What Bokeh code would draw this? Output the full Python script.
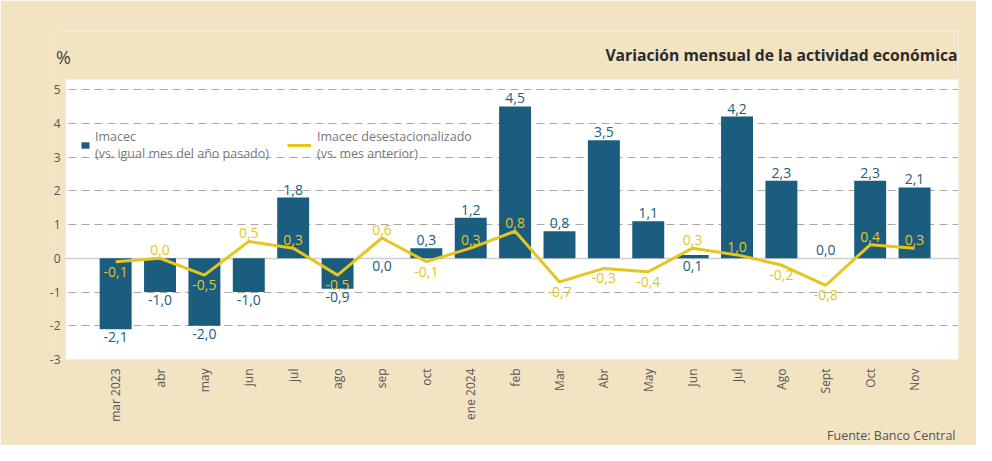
import math
from bokeh.plotting import figure
from bokeh.models import (ColumnDataSource, LabelSet, Label, Legend, LegendItem,
                          FixedTicker, Grid, Title, BoxAnnotation)
from bokeh.core.properties import value
from bokeh.embed import file_html
from bokeh.resources import INLINE

# ---------------- data ----------------
months = ["mar 2023", "abr", "may", "jun", "jul", "ago", "sep", "oct", "ene 2024",
          "feb", "Mar", "Abr", "May", "Jun", "Jul", "Ago", "Sept", "Oct", "Nov"]
imacec = [-2.1, -1.0, -2.0, -1.0, 1.8, -0.9, 0.0, 0.3, 1.2,
          4.5, 0.8, 3.5, 1.1, 0.1, 4.2, 2.3, 0.0, 2.3, 2.1]
desest = [-0.1, 0.0, -0.5, 0.5, 0.3, -0.5, 0.6, -0.1, 0.3,
          0.8, -0.7, -0.3, -0.4, 0.3, 0.1, -0.2, -0.8, 0.4, 0.3]
desest_labels = ["-0,1", "0,0", "-0,5", "0,5", "0,3", "-0,5", "0,6", "-0,1", "0,3",
                 "0,8", "-0,7", "-0,3", "-0,4", "0,3", "1,0", "-0,2", "-0,8", "0,4", "0,3"]
y_ticks = [-3, -2, -1, 0, 1, 2, 3, 4, 5]
y_tick_labels = ["-3", "-2", "-1", "0", "1", "2", "3", "4", "5"]

title_text = "Variación mensual de la actividad económica"
source_text = "Fuente: Banco Central"
unit_text = "%"
legend_bar = "Imacec\n(vs. igual mes del año pasado)"
legend_line = "Imacec desestacionalizado\n(vs. mes anterior)"

# ---------------- styles ----------------
FONT = "Open Sans"
BG = "#f2e3c3"
BAR = "#1a5d7e"
YEL = "#e6c51c"
GRID = "#a9a9a9"
TXT = "#555555"

# plotting area (white panel) in data units
PANEL_L, PANEL_R = -1.13, len(months) - 0.01
PANEL_B, PANEL_T = -3, 5.3

x = list(range(len(months)))

p = figure(width=976, height=445, output_backend="svg", toolbar_location=None,
           x_range=(-1.355, PANEL_R), y_range=(PANEL_B, 6.75),
           min_border_left=55, min_border_right=18, min_border_top=30, min_border_bottom=86)
p.border_fill_color = BG
p.background_fill_color = BG
p.outline_line_color = None

# white plotting panel (under the grid)
p.add_layout(BoxAnnotation(left=PANEL_L, right=PANEL_R, bottom=PANEL_B, top=PANEL_T,
                           fill_color="white", fill_alpha=1, line_color=None, level="image"))

bars = p.vbar(x=x, top=imacec, bottom=0, width=0.72, fill_color=BAR, line_color=None)
line = p.line(x=x, y=desest, line_color=YEL, line_width=3)

# axes
p.xaxis.ticker = FixedTicker(ticks=x)
p.xaxis.major_label_overrides = {i: m for i, m in enumerate(months)}
p.xaxis.major_label_orientation = math.pi / 2
p.xaxis.major_label_standoff = 9
p.yaxis.ticker = FixedTicker(ticks=y_ticks)
p.yaxis.major_label_overrides = dict(zip(y_ticks, y_tick_labels))
p.yaxis.major_label_standoff = -5
for ax in (p.xaxis, p.yaxis):
    ax.axis_line_color = None
    ax.major_tick_line_color = None
    ax.minor_tick_line_color = None
    ax.major_tick_out = 0
    ax.major_tick_in = 0
    ax.minor_tick_out = 0
    ax.major_label_text_font = FONT
    ax.major_label_text_font_size = "12px"
    ax.major_label_text_color = TXT

p.xgrid.visible = False
p.ygrid.ticker = FixedTicker(ticks=[t for t in y_ticks if t not in (0, -3)])
p.ygrid.grid_line_color = GRID
p.ygrid.grid_line_dash = "8 5"
p.ygrid.grid_line_width = 1
zero_grid = Grid(dimension=1, ticker=FixedTicker(ticks=[0]), grid_line_color="#cfcfcf",
                 grid_line_width=1.5)
p.add_layout(zero_grid)
# beige strip left of the white panel (hides grid lines there)
p.add_layout(BoxAnnotation(right=PANEL_L, fill_color=BG, fill_alpha=1, line_color=None,
                           level="underlay"))

# bar labels
def fmt(v):
    return f"{v:.1f}".replace(".", ",")

above = dict(x=[], y=[], t=[])
below = dict(x=[], y=[], t=[])
for i, (v, d) in enumerate(zip(imacec, desest)):
    if v < 0 or (v < 0.2 and d > v):
        below["x"].append(i); below["y"].append(min(v, 0)); below["t"].append(fmt(v))
    else:
        above["x"].append(i); above["y"].append(max(v, 0)); above["t"].append(fmt(v))

lbl_style = dict(text_align="center", text_font=value(FONT), text_font_size="14px")
p.add_layout(LabelSet(x="x", y="y", text="t", source=ColumnDataSource(above),
                      text_baseline="bottom", y_offset=3, text_color=BAR, **lbl_style))
p.add_layout(LabelSet(x="x", y="y", text="t", source=ColumnDataSource(below),
                      text_baseline="top", y_offset=-3, text_color=BAR, **lbl_style))

# line labels
la = dict(x=[], y=[], t=[])
lb = dict(x=[], y=[], t=[])
for i, (v, t) in enumerate(zip(desest, desest_labels)):
    if v >= 0:
        la["x"].append(i); la["y"].append(v); la["t"].append(t)
    else:
        lb["x"].append(i); lb["y"].append(v); lb["t"].append(t)
p.add_layout(LabelSet(x="x", y="y", text="t", source=ColumnDataSource(la),
                      text_baseline="bottom", y_offset=3, text_color=YEL, **lbl_style))
p.add_layout(LabelSet(x="x", y="y", text="t", source=ColumnDataSource(lb),
                      text_baseline="top", y_offset=-5, text_color=YEL, **lbl_style))

# legends
leg_style = dict(glyph_height=8, padding=0, margin=0, background_fill_alpha=0,
                 border_line_color=None, label_text_font=FONT,
                 label_text_font_size="12.5px", label_text_color="#777777",
                 label_text_line_height=0.9)
leg1 = Legend(items=[LegendItem(label=legend_bar, renderers=[bars])],
              location=(25, 197), glyph_width=10, label_standoff=5, **leg_style)
leg2 = Legend(items=[LegendItem(label=legend_line, renderers=[line])],
              location=(232, 197), glyph_width=24, label_standoff=6, **leg_style)
p.add_layout(leg1)
p.add_layout(leg2)

# titles
p.add_layout(Label(x=PANEL_R, y=6.01, text=title_text, text_align="right",
                   text_baseline="middle", text_font=FONT, text_font_size="15.7px",
                   text_font_style="bold", text_color="#2b2b2b", x_offset=-1))
p.add_layout(Label(x=-1.175, y=5.95, text=unit_text, text_align="center",
                   text_baseline="middle", text_font=FONT, text_font_size="18px",
                   text_color="#444444"))
p.add_layout(Title(text=source_text, align="right", text_font=FONT, text_font_size="12.5px",
                   text_font_style="normal", text_color="#555555", standoff=0, offset=3),
             "below")

open("out.html", "w").write(file_html(p, INLINE))
